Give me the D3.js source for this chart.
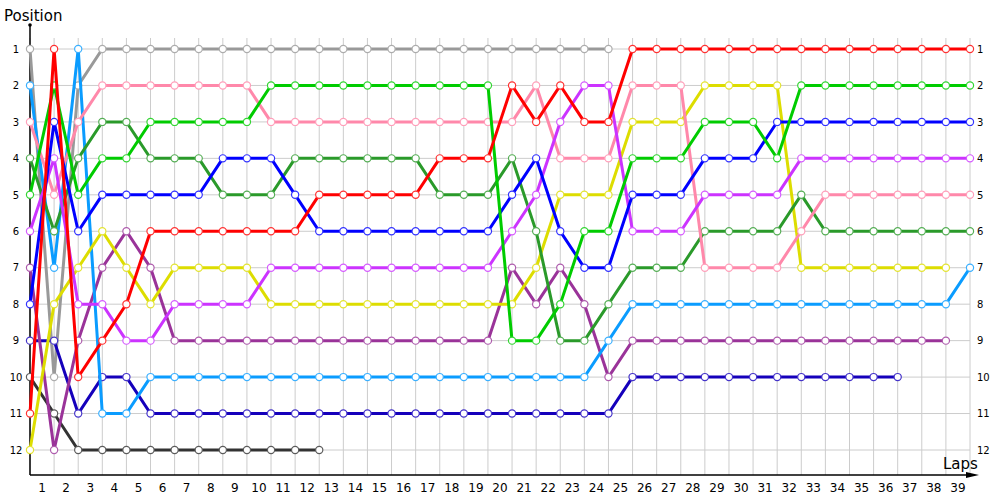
<!doctype html>
<html>
<head>
<meta charset="utf-8">
<script src="https://d3js.org/d3.v7.min.js"></script>
<style>
  body { margin: 0; background: #fff; }
  text { font-family: "DejaVu Sans", Verdana, sans-serif; }
</style>
</head>
<body>
<script>
//*****************
// data: position after each lap (index 0 = grid)
var laps = d3.range(1, 40);          // 1..39 tick labels
var positions = d3.range(1, 13);     // 1..12

var redPos      = [11,1,10,9,8,6,6,6,6,6,6,6,5,5,5,5,5,4,4,4,2,3,2,3,3,1,1,1,1,1,1,1,1,1,1,1,1,1,1,1];
var greenPos    = [5,2,5,4,4,3,3,3,3,3,2,2,2,2,2,2,2,2,2,2,9,9,8,6,6,4,4,4,3,3,3,4,2,2,2,2,2,2,2,2];
var bluePos     = [8,3,6,5,5,5,5,5,4,4,4,5,6,6,6,6,6,6,6,6,5,4,6,7,7,5,5,5,4,4,4,3,3,3,3,3,3,3,3,3];
var violetPos   = [6,4,8,8,9,9,8,8,8,8,7,7,7,7,7,7,7,7,7,7,6,5,3,2,2,6,6,6,5,5,5,5,4,4,4,4,4,4,4,4];
var pinkPos     = [3,5,3,2,2,2,2,2,2,2,3,3,3,3,3,3,3,3,3,3,3,2,4,4,4,2,2,2,7,7,7,7,6,5,5,5,5,5,5,5];
var dkGreenPos  = [4,6,4,3,3,4,4,4,5,5,5,4,4,4,4,4,4,5,5,5,4,6,9,9,8,7,7,7,6,6,6,6,5,6,6,6,6,6,6,6];
var yellowPos   = [12,8,7,6,7,8,7,7,7,7,8,8,8,8,8,8,8,8,8,8,8,7,5,5,5,3,3,3,2,2,2,2,7,7,7,7,7,7,7];
var ltBluePos   = [2,7,1,11,11,10,10,10,10,10,10,10,10,10,10,10,10,10,10,10,10,10,10,10,9,8,8,8,8,8,8,8,8,8,8,8,8,8,8,7];
var purplePos   = [7,12,9,7,6,7,9,9,9,9,9,9,9,9,9,9,9,9,9,9,7,8,7,8,10,9,9,9,9,9,9,9,9,9,9,9,9,9,9];
var navyPos     = [9,9,11,10,10,11,11,11,11,11,11,11,11,11,11,11,11,11,11,11,11,11,11,11,11,10,10,10,10,10,10,10,10,10,10,10,10];
var grayPos     = [1,10,2,1,1,1,1,1,1,1,1,1,1,1,1,1,1,1,1,1,1,1,1,1,1];
var dkGrayPos   = [10,11,12,12,12,12,12,12,12,12,12,12,12];

var colors = ["#999999","#333333","#1500bb","#9a3399","#0a9cff","#dddd00","#2a9a2a","#ff88aa","#cc33ff","#0000ff","#00cc00","#ff0000"];
var series = [grayPos, dkGrayPos, navyPos, purplePos, ltBluePos, yellowPos, dkGreenPos, pinkPos, violetPos, bluePos, greenPos, redPos];
//**********************

var width = 1000, height = 500;
var svg = d3.select("body").append("svg").attr("width", width).attr("height", height);

var x = d3.scaleLinear().domain([0, 39]).range([30, 970]);
var xBand = d3.scaleBand().domain(laps).range([30, 970]);
var y = d3.scaleLinear().domain([1, 12]).range([49, 450]);
var axisY = 475;

// grid
svg.append("g").selectAll("line")
    .data(d3.range(0, 40))
    .enter().append("line")
    .attr("x1", function(d){ return x(d); })
    .attr("x2", function(d){ return x(d); })
    .attr("y1", 38).attr("y2", axisY)
    .attr("stroke", "#cccccc").attr("stroke-width", 1);

svg.append("g").selectAll("line")
    .data(positions)
    .enter().append("line")
    .attr("x1", x(0)).attr("x2", x(39))
    .attr("y1", function(d){ return y(d); })
    .attr("y2", function(d){ return y(d); })
    .attr("stroke", "#cccccc").attr("stroke-width", 1);

// x axis labels (centred on each lap)
var xAxis = svg.append("g")
    .attr("transform", "translate(0," + axisY + ")")
    .call(d3.axisBottom(xBand).tickSize(0).tickPadding(8));
xAxis.select(".domain").remove();
xAxis.selectAll("text").style("font-size", "12px").attr("fill", "#000");

// y labels left and right
var yLeft = svg.append("g")
    .attr("transform", "translate(16,0)")
    .call(d3.axisLeft(y).tickValues(positions).tickSize(0).tickPadding(0));
yLeft.select(".domain").remove();
yLeft.selectAll("text").attr("text-anchor", "middle").style("font-size", "10px").attr("fill", "#000");

var yRight = svg.append("g")
    .attr("transform", "translate(976,0)")
    .call(d3.axisRight(y).tickValues(positions).tickSize(0).tickPadding(1));
yRight.select(".domain").remove();
yRight.selectAll("text").style("font-size", "10px").attr("fill", "#000");

// axes lines (under the markers)
svg.append("line")
    .attr("x1", 30).attr("x2", 30).attr("y1", 25).attr("y2", axisY)
    .attr("stroke", "#000").attr("stroke-width", 1.5);
svg.append("circle").attr("cx", 30).attr("cy", 25).attr("r", 1.8).attr("fill", "#000");
svg.append("line")
    .attr("x1", 30).attr("x2", 972).attr("y1", axisY).attr("y2", axisY)
    .attr("stroke", "#000").attr("stroke-width", 1.5);
svg.append("path")
    .attr("d", "M966," + (axisY - 3) + "L979," + axisY + "L966," + (axisY + 3) + "Z")
    .attr("fill", "#000");

// lines + markers
var line = d3.line()
    .x(function(d, i){ return x(i); })
    .y(function(d){ return y(d); });

series.forEach(function(s, k){
    var c = colors[k];
    var g = svg.append("g");
    g.append("path")
        .attr("d", line(s))
        .attr("fill", "none")
        .attr("stroke", c)
        .attr("stroke-width", 3);
    g.selectAll("circle")
        .data(s)
        .enter().append("circle")
        .attr("cx", function(d, i){ return x(i); })
        .attr("cy", function(d){ return y(d); })
        .attr("r", 3.6)
        .attr("fill", "#fff")
        .attr("stroke", d3.interpolateRgb(c, "#ffffff")(0.2))
        .attr("stroke-width", 1.2);
});

svg.append("text").attr("x", 4).attr("y", 21).text("Position")
    .style("font-size", "15px").attr("fill", "#000");
svg.append("text").attr("x", 943).attr("y", 469).text("Laps")
    .style("font-size", "15px").attr("fill", "#000");
</script>
</body>
</html>
